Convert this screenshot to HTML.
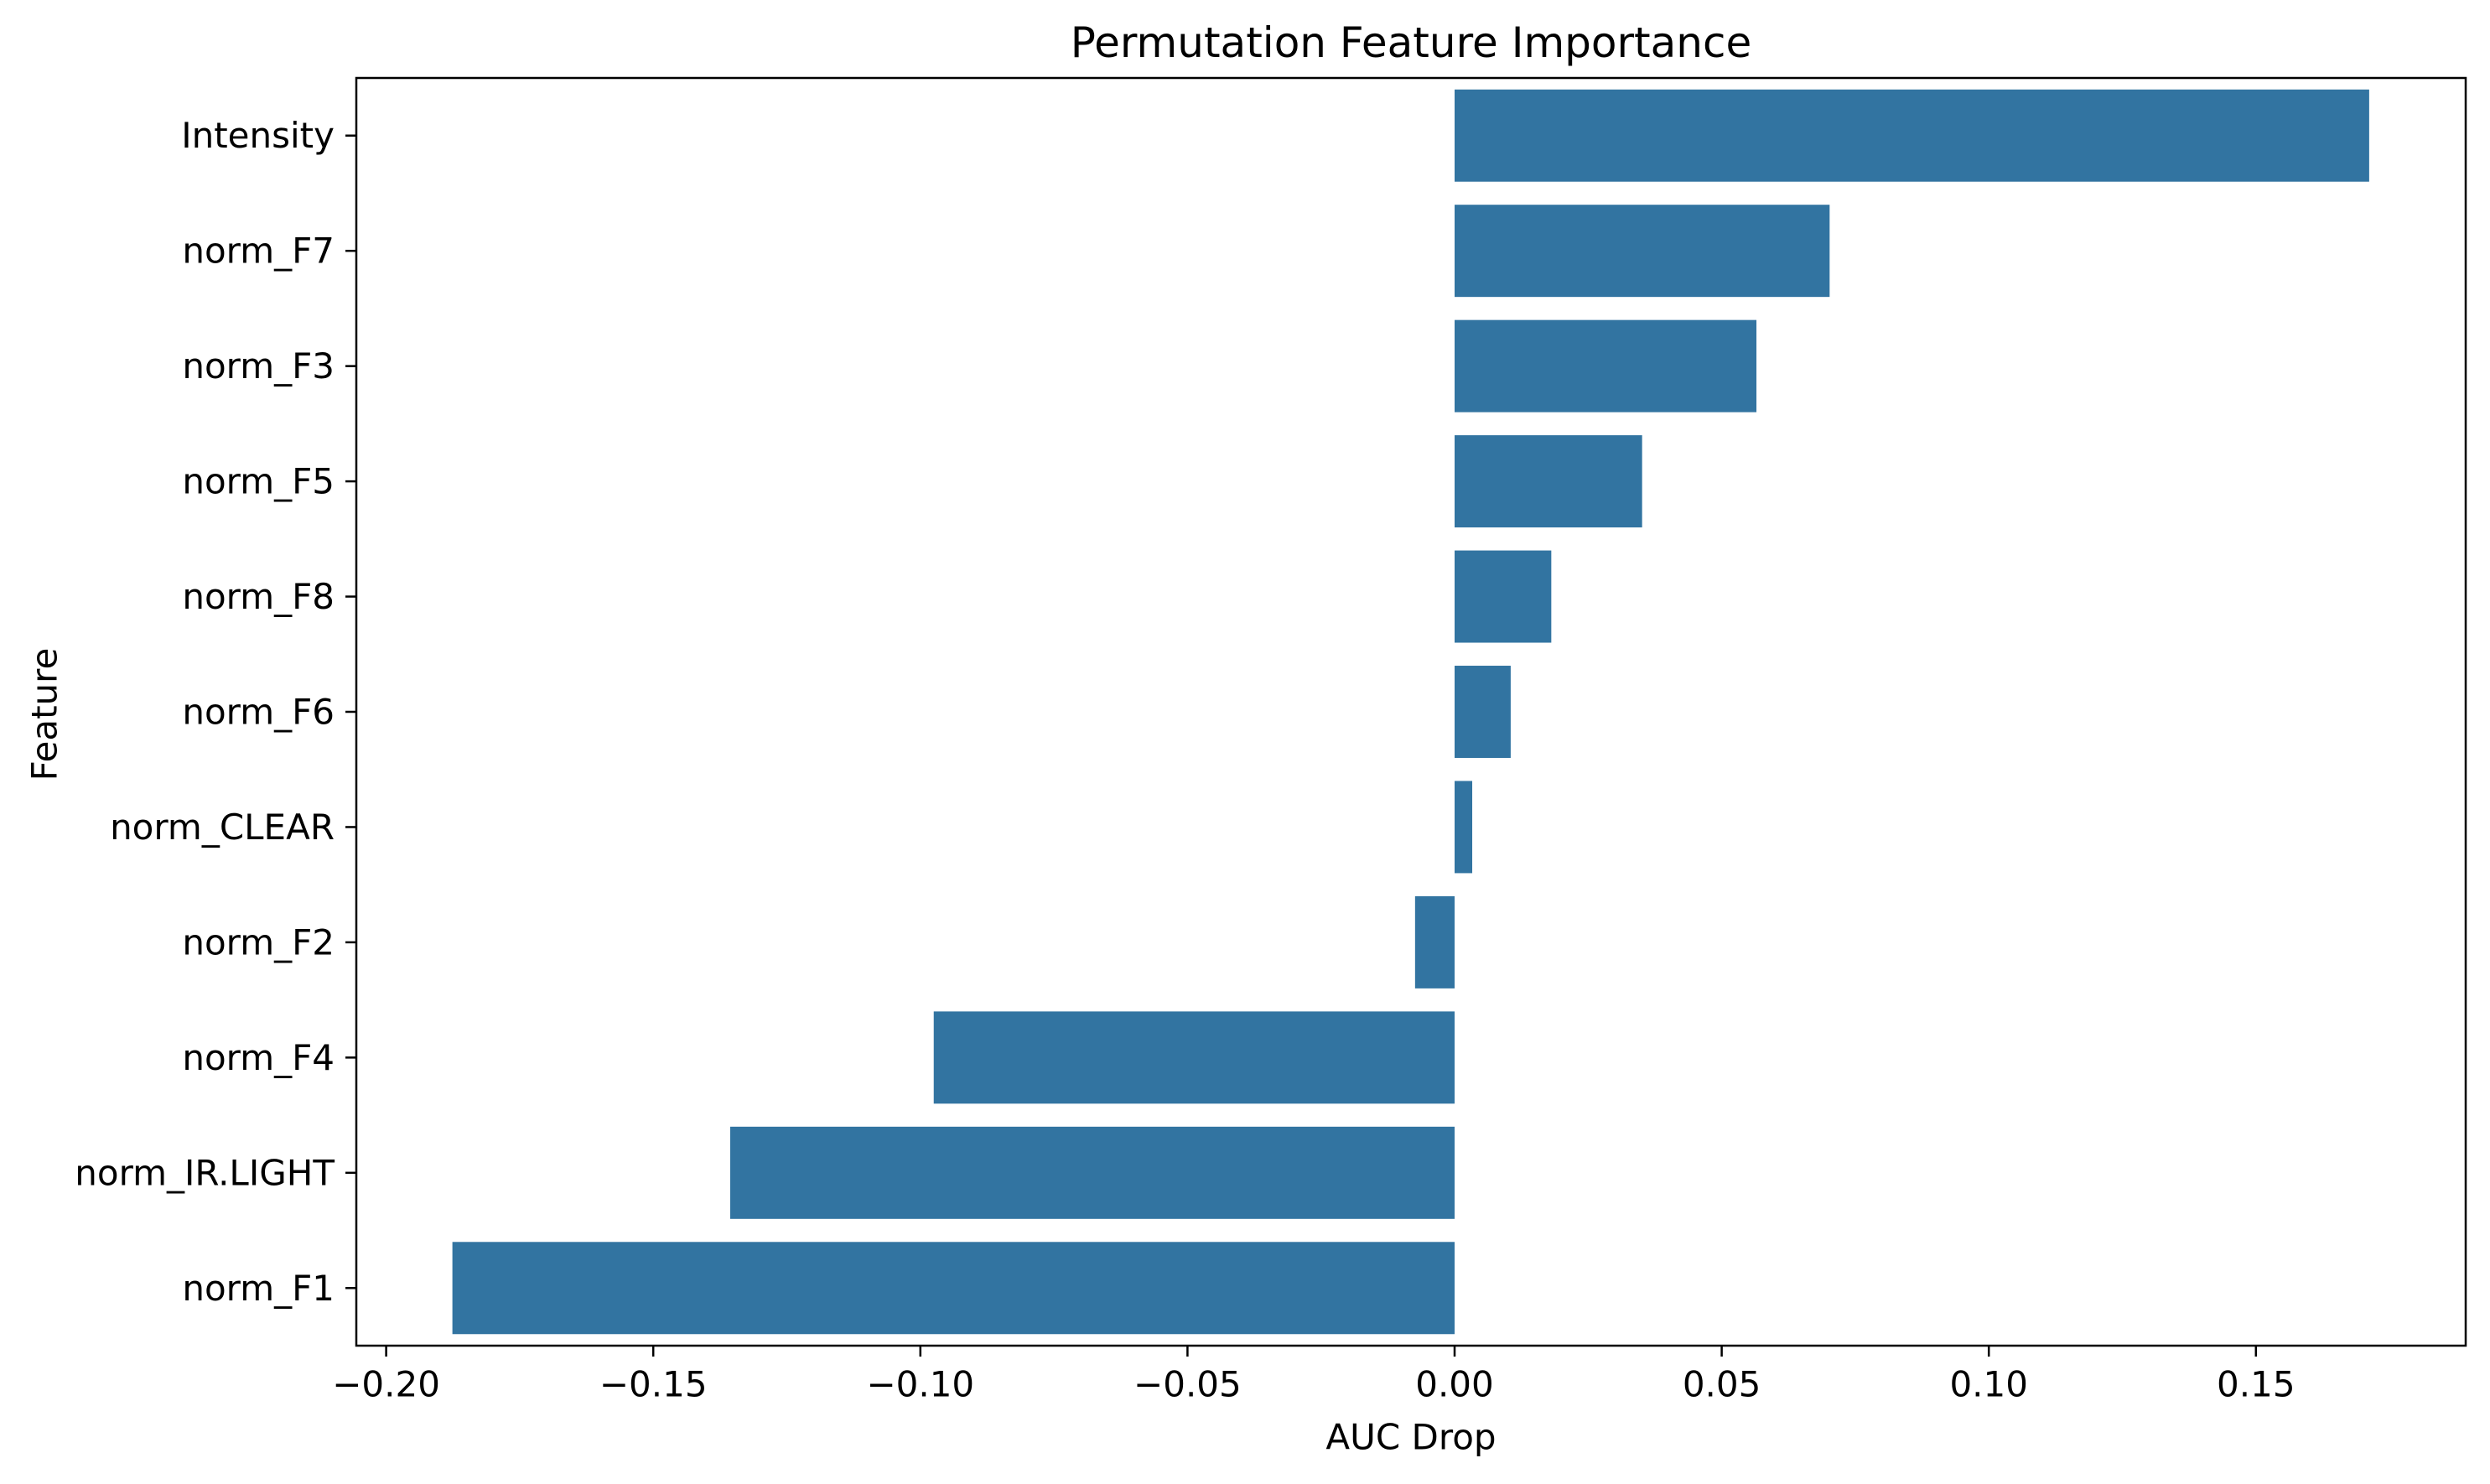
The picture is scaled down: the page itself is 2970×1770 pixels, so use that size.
<!DOCTYPE html>
<html><head><meta charset="utf-8">
<style>
html,body{margin:0;padding:0;background:#fff;}
svg text{font-family:"DejaVu Sans","Liberation Sans",sans-serif;fill:#000;}
</style></head>
<body>
<svg id="chart" width="2970" height="1765" viewBox="0 0 2970 1765" xmlns="http://www.w3.org/2000/svg">
<rect width="2970" height="1765" fill="#fff"/>
<g id="bars"></g>
<g id="axes"></g>
<text x="1683" y="51" font-size="50" text-anchor="middle" dominant-baseline="central">Permutation Feature Importance</text>
<text x="1683" y="1714" font-size="42" text-anchor="middle" dominant-baseline="central">AUC Drop</text>
<text x="0" y="0" font-size="42" text-anchor="middle" dominant-baseline="central" transform="translate(53,852) rotate(-90)">Feature</text>
</svg>
<script>
const categories = ["Intensity","norm_F7","norm_F3","norm_F5","norm_F8","norm_F6","norm_CLEAR","norm_F2","norm_F4","norm_IR.LIGHT","norm_F1"];
const values = [0.1712,0.0702,0.0565,0.0351,0.0181,0.0105,0.0033,-0.0074,-0.0975,-0.1356,-0.1876];
const xTicks = [-0.20,-0.15,-0.10,-0.05,0.00,0.05,0.10,0.15];
const xTickLabels = ["\u22120.20","\u22120.15","\u22120.10","\u22120.05","0.00","0.05","0.10","0.15"];

const NS = "http://www.w3.org/2000/svg";
const L = 425, R = 2941, T = 93, B = 1605;
const x0 = 1735, pxPerUnit = 6372;
function xScale(v){ return x0 + v * pxPerUnit; }
const step = (B - T) / categories.length;
function yScale(i){ return T + (i + 0.5) * step; }

const bars = document.getElementById('bars');
const axes = document.getElementById('axes');
function mk(tag, attrs){ const e = document.createElementNS(NS, tag); for (const k in attrs) e.setAttribute(k, attrs[k]); return e; }

categories.forEach((c, i) => {
  const v = values[i];
  const xa = xScale(Math.min(0, v)), xb = xScale(Math.max(0, v));
  const h = step * 0.8;
  const r = mk('rect', {x: xa, y: yScale(i) - h/2, width: Math.max(0, xb - xa), height: h, fill: '#3274a1'});
  
  
  bars.appendChild(r);
  const t = mk('line', {x1: L - 13, x2: L, y1: yScale(i), y2: yScale(i), stroke: '#000', 'stroke-width': 2.5});
  
  
  axes.appendChild(t);
  const lb = mk('text', {x: L - 26, y: yScale(i), 'font-size': 42, 'text-anchor': 'end', 'dominant-baseline': 'central'});
  lb.textContent = c;
  
  
  axes.appendChild(lb);
});

xTicks.forEach((v, i) => {
  const x = xScale(v);
  const t = mk('line', {x1: x, x2: x, y1: B, y2: B + 13, stroke: '#000', 'stroke-width': 2.5});
  
  
  axes.appendChild(t);
  const lb = mk('text', {x: x, y: 1651, 'font-size': 42, 'text-anchor': 'middle', 'dominant-baseline': 'central'});
  lb.textContent = xTickLabels[i];
  
  
  axes.appendChild(lb);
});

const frame = mk('rect', {x: L, y: T, width: R - L, height: B - T, fill: 'none', stroke: '#000', 'stroke-width': 2.5});


axes.appendChild(frame);
</script>
</body></html>
